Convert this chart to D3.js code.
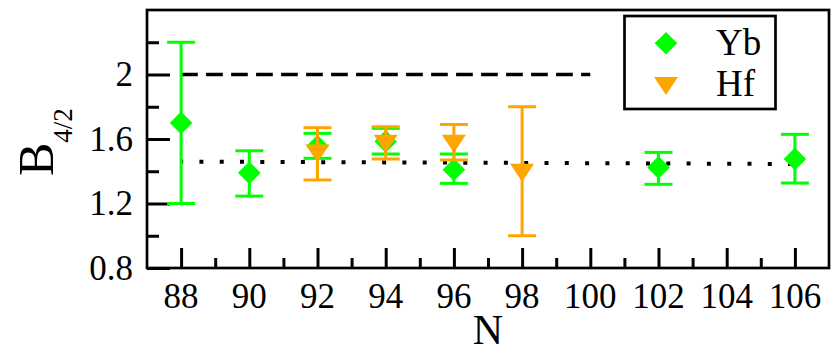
<!DOCTYPE html>
<html>
<head>
<meta charset="utf-8">
<script src="https://cdn.jsdelivr.net/npm/d3@7"></script>
</head>
<body style="margin:0;background:#fff">
<svg id="chart" width="840" height="354" style="display:block"></svg>
<script>
// ---- data ----
const ybN   = [88, 90, 92, 94, 96, 102, 106];
const ybVal = [1.70, 1.39, 1.555, 1.585, 1.41, 1.424, 1.476];
const ybLo  = [1.20, 1.246, 1.48, 1.507, 1.325, 1.319, 1.327];
const ybHi  = [2.20, 1.527, 1.635, 1.666, 1.507, 1.517, 1.629];

const hfN   = [92, 94, 96, 98];
const hfVal = [1.51, 1.57, 1.57, 1.39];
const hfLo  = [1.346, 1.476, 1.47, 1.00];
const hfHi  = [1.670, 1.676, 1.69, 1.80];

const dashedLine = [[88, 2.0], [100, 2.0]];
const dottedLine = [[88, 1.46], [106, 1.445]];

const xMajor = [88, 90, 92, 94, 96, 98, 100, 102, 104, 106];
const xMinor = [89, 91, 93, 95, 97, 99, 101, 103, 105];
const yMajor = [0.8, 1.2, 1.6, 2.0];
const yMinor = [1.0, 1.4, 1.8, 2.2];
const yLabels = ["0.8", "1.2", "1.6", "2"];
const seriesNames = ["Yb", "Hf"];
const colors = ["#00ff00", "#ffa500"];

const FONT = '"Times New Roman", "Liberation Serif", Tinos, FreeSerif, serif';

// ---- layout ----
const svg = d3.select("#chart");
const L = 147, T = 10, R = 829, B = 268;
const x = d3.scaleLinear().domain([87, 107]).range([L, R]);
const y = d3.scaleLinear().domain([0.8, 2.4]).range([B, T]);

// reference lines
const line = d3.line().x(d => x(d[0])).y(d => y(d[1]));
svg.append("path").attr("d", line(dashedLine))
  .attr("fill", "none").attr("stroke", "#000").attr("stroke-width", 3.3)
  .attr("stroke-dasharray", "16.7 8.3");
svg.append("path").attr("d", line(dottedLine))
  .attr("fill", "none").attr("stroke", "#000").attr("stroke-width", 4)
  .attr("stroke-dasharray", "4 16.3").attr("stroke-dashoffset", 2);

// ticks (inward)
const tickG = svg.append("g");
tickG.append("g").attr("transform", `translate(0,${B})`)
  .call(d3.axisTop(x).tickValues(xMajor).tickSize(20).tickFormat(""));
tickG.append("g").attr("transform", `translate(0,${B})`)
  .call(d3.axisTop(x).tickValues(xMinor).tickSize(10).tickFormat(""));
tickG.append("g").attr("transform", `translate(${L},0)`)
  .call(d3.axisRight(y).tickValues(yMajor).tickSize(23).tickFormat(""));
tickG.append("g").attr("transform", `translate(${L},0)`)
  .call(d3.axisRight(y).tickValues(yMinor).tickSize(12).tickFormat(""));
tickG.selectAll(".domain").remove();
tickG.selectAll("text").remove();
tickG.selectAll(".tick line").attr("stroke", "#000").attr("stroke-width", 3);

// text layer
const txt = svg.append("g").attr("font-family", FONT).style("font-family", FONT);
txt.selectAll("text.xl").data(xMajor).join("text").attr("class", "xl")
  .attr("x", d => x(d)).attr("y", 308)
  .attr("text-anchor", "middle").attr("font-size", 35)
  .text(d => d);
txt.selectAll("text.yl").data(yMajor).join("text").attr("class", "yl")
  .attr("x", 133).attr("y", d => y(d)).attr("dy", "0.34em")
  .attr("text-anchor", "end").attr("font-size", 35)
  .text((d, i) => yLabels[i]);

// axis titles
txt.append("text").attr("x", (L + R) / 2).attr("y", 344)
  .attr("text-anchor", "middle").attr("font-size", 42).text("N");
const yt = txt.append("text").attr("transform", "translate(53,176) rotate(-90)")
  .attr("text-anchor", "start");
yt.append("tspan").attr("font-size", 50).text("B");
yt.append("tspan").attr("font-size", 27).attr("dy", 19).text("4/2");

// series
const diamond = "M0,-11.3L11.3,0L0,11.3L-11.3,0Z";
const triDown = "M-12,-9L12,-9L0,9Z";
function drawSeries(ns, vals, los, his, color, shape) {
  const g = svg.append("g");
  ns.forEach((n, i) => {
    const cx = x(n);
    g.append("line").attr("x1", cx).attr("x2", cx)
      .attr("y1", y(los[i])).attr("y2", y(his[i]))
      .attr("stroke", color).attr("stroke-width", 3);
    [los[i], his[i]].forEach(v => {
      g.append("line").attr("x1", cx - 14).attr("x2", cx + 14)
        .attr("y1", y(v)).attr("y2", y(v))
        .attr("stroke", color).attr("stroke-width", 3);
    });
  });
  ns.forEach((n, i) => {
    g.append("path").attr("d", shape)
      .attr("transform", `translate(${x(n)},${y(vals[i])})`)
      .attr("fill", color);
  });
}
drawSeries(ybN, ybVal, ybLo, ybHi, colors[0], diamond);
drawSeries(hfN, hfVal, hfLo, hfHi, colors[1], triDown);

// frame
svg.append("rect").attr("x", L).attr("y", T).attr("width", R - L).attr("height", B - T)
  .attr("fill", "none").attr("stroke", "#000").attr("stroke-width", 2.7);

// legend
const lg = svg.append("g");
lg.append("rect").attr("x", 624.5).attr("y", 16).attr("width", 151).attr("height", 93)
  .attr("fill", "#fff").attr("stroke", "#000").attr("stroke-width", 2.7);
lg.append("path").attr("d", diamond).attr("transform", "translate(666,43.3)").attr("fill", colors[0]);
lg.append("path").attr("d", triDown).attr("transform", "translate(666,86)").attr("fill", colors[1]);
const lt = lg.append("g").attr("font-family", FONT).style("font-family", FONT);
lt.append("text").attr("x", 716).attr("y", 55).attr("font-size", 37).text(seriesNames[0]);
lt.append("text").attr("x", 716).attr("y", 96).attr("font-size", 37).text(seriesNames[1]);
</script>
</body>
</html>
